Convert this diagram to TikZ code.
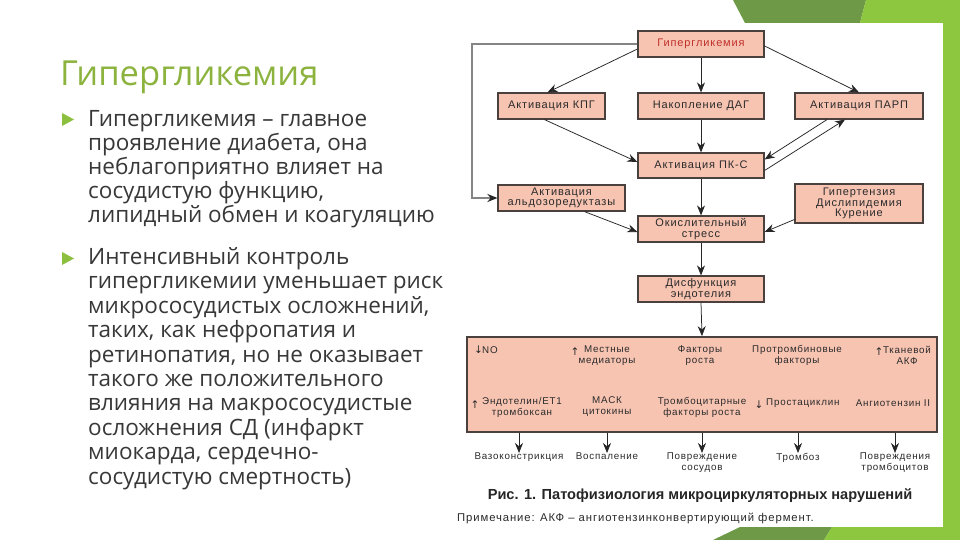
\documentclass[tikz,border=0pt]{standalone}
\usepackage{fontspec}
\setmainfont{Open Sans}
\newfontfamily\dfont[LetterSpace=8]{Liberation Sans}
\newfontfamily\cfont{Liberation Sans}
\newfontfamily\symfont{DejaVu Sans}
\usetikzlibrary{arrows.meta,calc}
\definecolor{boxfill}{HTML}{F7C4B2}
\definecolor{boxline}{HTML}{4A403E}
\definecolor{dtext}{HTML}{2A2A2A}
\definecolor{redtext}{HTML}{C0302A}
\definecolor{arrline}{HTML}{262626}
\definecolor{loopline}{HTML}{858585}
\definecolor{bodytext}{HTML}{383838}
\definecolor{titlegreen}{HTML}{8DB33F}
\definecolor{darkgreen}{HTML}{6E9A48}
\definecolor{lightgreen}{HTML}{8DC63F}
\definecolor{bulletgreen}{HTML}{8DBF3F}
\begin{document}
\begin{tikzpicture}[x=1pt,y=-1pt,
  box/.style={draw=boxline, line width=1.2pt, fill=boxfill, font=\dfont\fontsize{11}{10.5}\selectfont, text=dtext, align=center, inner sep=0pt},
  arr/.style={draw=arrline, line width=0.75pt, -{Stealth[length=10pt,width=8pt]}},
  looparr/.style={draw=loopline, line width=1.8pt, -{Stealth[length=10pt,width=8pt,color=arrline]}},
  body/.style={anchor=base west, font=\fontsize{22.5}{24}\selectfont, text=bodytext, inner sep=0pt},
  lbl/.style={font=\dfont\fontsize{9.8}{11}\selectfont, text=dtext, align=center, inner sep=0pt},
  sym/.style={font=\symfont\fontsize{10.5}{10.5}\selectfont, text=dtext, inner sep=0pt},
]
\useasboundingbox (0,0) rectangle (960,540);
\fill[white] (0,0) rectangle (960,540);
% green decorations
\fill[darkgreen] (733,0) -- (866,0) -- (860,23) -- (745,23) -- cycle;
\fill[lightgreen] (866,0) -- (960,0) -- (960,23) -- (860,23) -- cycle;
\fill[lightgreen] (943,0) rectangle (960,540);
\fill[darkgreen] (713,540) -- (740,527) -- (832,527) -- (824,540) -- cycle;
\fill[lightgreen] (832,527) -- (960,527) -- (960,540) -- (824,540) -- cycle;
\fill[white] (452,23) rectangle (943,527);

% left text
\node[anchor=base west, font=\fontsize{34.5}{36}\selectfont, text=titlegreen, inner sep=0pt] (title) at (60,86) {Гипергликемия};
\fill[bulletgreen] (62,113) -- (74,119.5) -- (62,126) -- cycle;
\node[body] (a1) at (88,126.5) {Гипергликемия – главное};
\node[body] (a2) at (88,150.5) {проявление диабета, она};
\node[body] (a3) at (88,174.5) {неблагоприятно влияет на};
\node[body] (a4) at (88,198.5) {сосудистую функцию,};
\node[body] (a5) at (88,222.5) {липидный обмен и коагуляцию};
\fill[bulletgreen] (62,252) -- (74,258.5) -- (62,265) -- cycle;
\node[body] (b1) at (88,264.5) {Интенсивный контроль};
\node[body] (b2) at (88,288.9) {гипергликемии уменьшает риск};
\node[body] (b3) at (88,313.3) {микрососудистых осложнений,};
\node[body] (b4) at (88,337.7) {таких, как нефропатия и};
\node[body] (b5) at (88,362.1) {ретинопатия, но не оказывает};
\node[body] (b6) at (88,386.5) {такого же положительного};
\node[body] (b7) at (88,410.9) {влияния на макрососудистые};
\node[body] (b8) at (88,435.3) {осложнения СД (инфаркт};
\node[body] (b9) at (88,459.7) {миокарда, сердечно-};
\node[body] (b10) at (88,484.1) {сосудистую смертность)};

% diagram boxes
\node[box, minimum width=126pt, minimum height=26pt, text=redtext] (hyp) at (701,44) {Гипергликемия};
\node[box, minimum width=107pt, minimum height=26pt] (kpg) at (551.5,106) {Активация КПГ};
\node[box, minimum width=126pt, minimum height=26pt] (dag) at (701,106) {Накопление ДАГ};
\node[box, minimum width=128pt, minimum height=26pt] (parp) at (859,106) {Активация ПАРП};
\node[box, minimum width=126pt, minimum height=25pt] (pkc) at (701,165.5) {Активация ПК-С};
\node[box, minimum width=127pt, minimum height=26pt] (ald) at (561.5,198) {Активация\\альдозоредуктазы};
\node[box, minimum width=126pt, minimum height=26pt] (oks) at (701,229) {Окислительный\\стресс};
\node[box, minimum width=128pt, minimum height=39pt] (hyt) at (859,203.5) {Гипертензия\\Дислипидемия\\Курение};
\node[box, minimum width=126pt, minimum height=26pt] (dys) at (701,289) {Дисфункция\\эндотелия};
\node[box, minimum width=470pt, minimum height=95pt, line width=1.7pt] (big) at (702,384.5) {};

% contents of the big box
\node[sym, anchor=west] (arNO) at (474,350) {↓};
\node[lbl, anchor=west] (no) at (482,350) {NO};
\node[sym] (arMe) at (575,352) {↑};
\node[lbl] (mest) at (607,355.5) {Местные\\медиаторы};
\node[lbl] (fakt) at (700,355.5) {Факторы\\роста};
\node[lbl] (protr) at (797,355.5) {Протромбиновые\\факторы};
\node[sym] (arTk) at (879,352) {↑};
\node[lbl] (tkan) at (907,355.5) {Тканевой\\АКФ};
\node[sym] (arEn) at (475,405) {↑};
\node[lbl] (endo) at (522,407) {Эндотелин/ET1\\тромбоксан};
\node[lbl] (mask) at (607,407) {МАСК\\цитокины};
\node[lbl] (tromb) at (702,407) {Тромбоцитарные\\факторы роста};
\node[sym] (arPr) at (759,405) {↓};
\node[lbl, anchor=west] (prost) at (766,403) {Простациклин};
\node[lbl] (angio) at (893,403) {Ангиотензин II};

% outcome labels
\node[lbl, anchor=north, font=\dfont\fontsize{9.8}{10.5}\selectfont] (vaso) at (519,453) {Вазоконстрикция};
\node[lbl, anchor=north, font=\dfont\fontsize{9.8}{10.5}\selectfont] (vosp) at (607,453) {Воспаление};
\node[lbl, anchor=north, font=\dfont\fontsize{9.8}{10.5}\selectfont] (povs) at (702,453) {Повреждение\\сосудов};
\node[lbl, anchor=north, font=\dfont\fontsize{9.8}{10.5}\selectfont] (trz) at (798,453) {Тромбоз};
\node[lbl, anchor=north, font=\dfont\fontsize{9.8}{10.5}\selectfont] (povt) at (895,453) {Повреждения\\тромбоцитов};

% caption and note
\node[font=\cfont\bfseries\fontsize{14.6}{15}\selectfont, text=black!85, inner sep=0pt] (cap) at (700,496) {Рис. 1. Патофизиология микроциркуляторных нарушений};
\node[anchor=west, font=\dfont\fontsize{11.3}{12}\selectfont, text=dtext, inner sep=0pt] (note) at (457,518) {Примечание: АКФ – ангиотензинконвертирующий фермент.};

% connectors
\coordinate (lp) at (472,44);
\draw[looparr] (hyp.west) -- (lp) |- (ald.west);
\draw[arr] ([yshift=-5pt]hyp.west) -- ([xshift=-4pt]kpg.north);
\draw[arr] (hyp.south) -- (dag.north);
\draw[arr] ([yshift=-2pt]hyp.east) -- (parp.north);
\draw[arr] ([xshift=-7pt]kpg.south) -- ([yshift=3.5pt]pkc.west);
\draw[arr] (dag.south) -- (pkc.north);
\draw[arr] ([xshift=-32pt]parp.south) -- ([yshift=6pt]pkc.east);
\draw[arr] ([yshift=-5pt]pkc.east) -- ([xshift=-14pt]parp.south);
\draw[arr] (pkc.south) -- (oks.north);
\draw[arr] ([xshift=23pt]ald.south) -- ([yshift=-3pt]oks.west);
\draw[arr] ([yshift=-16pt]hyt.west) -- ([yshift=-3pt]oks.east);
\draw[arr] (oks.south) -- (dys.north);
\draw[arr] (dys.south) -- (big.north);
\draw[arr] (big.south -| vaso.north) -- (vaso.north);
\draw[arr] (big.south -| vosp.north) -- (vosp.north);
\draw[arr] (big.south -| povs.north) -- (povs.north);
\draw[arr] (big.south -| trz.north) -- (trz.north);
\draw[arr] (big.south -| povt.north) -- (povt.north);
\end{tikzpicture}
\end{document}
